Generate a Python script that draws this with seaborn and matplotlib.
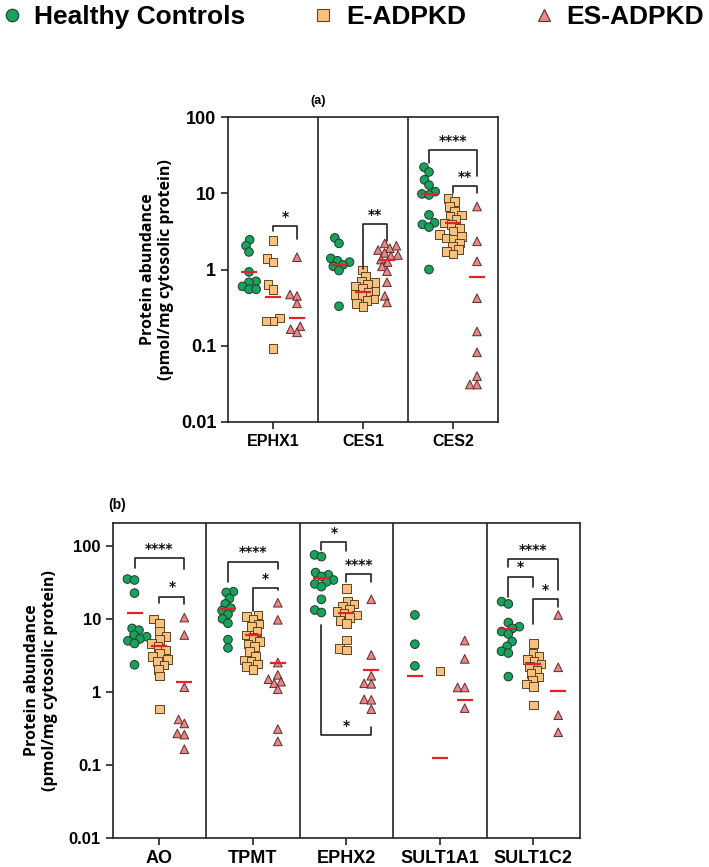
import pandas as pd
import seaborn as sns
import matplotlib.pyplot as plt
from matplotlib.lines import Line2D
from matplotlib.ticker import FixedLocator, FuncFormatter, NullLocator

GROUPS = ["Healthy Controls", "E-ADPKD", "ES-ADPKD"]
MARKERS = {"Healthy Controls": "o", "E-ADPKD": "s", "ES-ADPKD": "^"}
COLORS = {"Healthy Controls": "#17A35E", "E-ADPKD": "#F8C27E", "ES-ADPKD": "#E8868A"}
EDGES = {"Healthy Controls": "#1d3a2a", "E-ADPKD": "#5c4424", "ES-ADPKD": "#5c2c2c"}
MEAN_COLOR = "#E5222A"

ENZYMES_A = ["EPHX1", "CES1", "CES2"]
ENZYMES_B = ["AO", "TPMT", "EPHX2", "SULT1A1", "SULT1C2"]

# individual samples, pmol/mg cytosolic protein
HEALTHY = {
    "EPHX1": [2.45, 2.05, 1.7, 0.93, 0.7, 0.68, 0.6, 0.55, 0.55],
    "CES1": [2.6, 2.2, 1.4, 1.3, 1.25, 1.15, 1.1, 0.97, 0.33],
    "CES2": [22, 19, 15, 12.8, 10.5, 9.8, 9.5, 5.2, 4.1, 3.9, 3.6, 1.0],
    "AO": [35, 34, 22.5, 7.4, 7.0, 6.0, 5.7, 5.3, 5.0, 4.6, 2.35],
    "TPMT": [23.5, 23, 19, 16, 14, 13, 11.5, 10, 8.7, 5.2, 4.0],
    "EPHX2": [75, 71, 43, 40, 38, 34, 32, 30, 27.6, 18.5, 13.2, 12.2],
    "SULT1A1": [11.3, 4.5, 2.27],
    "SULT1C2": [17.2, 16, 8.9, 7.8, 7.4, 6.7, 6.2, 4.9, 4.2, 3.6, 3.4, 1.62],
}
E_ADPKD = {
    "EPHX1": [2.4, 1.4, 1.25, 0.64, 0.55, 0.23, 0.21, 0.21, 0.092],
    "CES1": [0.98, 0.82, 0.7, 0.67, 0.64, 0.6, 0.56, 0.52, 0.5, 0.47, 0.45, 0.41, 0.39, 0.36, 0.33],
    "CES2": [8.6, 7.8, 6.7, 5.8, 5.2, 4.97, 4.5, 4.06, 3.86, 3.5, 3.16, 2.86, 2.72, 2.6, 2.46,
             2.23, 2.0, 1.82, 1.73, 1.6],
    "AO": [9.9, 8.7, 6.8, 5.7, 5.25, 4.6, 4.17, 3.75, 3.38, 3.04, 2.8, 2.6, 2.34, 2.04, 1.65, 0.58],
    "TPMT": [11.3, 10.7, 9.7, 8.5, 7.8, 6.7, 6.0, 5.6, 4.9, 4.5, 4.17, 3.56, 3.1, 2.74, 2.6, 2.4,
             2.22, 2.04],
    "EPHX2": [26.2, 17.2, 16, 14.7, 13.5, 12.6, 11.9, 11.3, 10.5, 9.5, 8.7, 5.15, 3.96, 3.75],
    "SULT1A1": [1.96],
    "SULT1C2": [4.6, 3.4, 3.04, 2.8, 2.6, 2.4, 2.22, 2.0, 1.8, 1.59, 1.46, 1.29, 1.18, 0.66],
}
ES_ADPKD = {
    "EPHX1": [1.45, 0.47, 0.45, 0.36, 0.18, 0.165, 0.15],
    "CES1": [2.2, 2.05, 1.9, 1.8, 1.65, 1.55, 1.5, 1.35, 1.25, 1.1, 0.95, 0.68, 0.45, 0.37],
    "CES2": [6.7, 2.34, 1.28, 0.42, 0.154, 0.082, 0.04, 0.031, 0.031],
    "AO": [10.4, 6.0, 1.16, 0.42, 0.37, 0.27, 0.26, 0.164],
    "TPMT": [16.6, 9.7, 2.52, 1.71, 1.49, 1.38, 1.31, 1.09, 0.31, 0.21],
    "EPHX2": [18.5, 3.2, 1.66, 1.31, 1.29, 0.79, 0.78, 0.58],
    "SULT1A1": [5.04, 2.83, 1.15, 1.15, 0.6],
    "SULT1C2": [11.3, 2.17, 0.48, 0.28],
}

# red horizontal lines (healthy, E-ADPKD, ES-ADPKD)
MEAN_LINE = {
    "EPHX1": [0.92, 0.44, 0.234],
    "CES1": [1.13, 0.506, 1.35],
    "CES2": [9.7, 4.06, 0.80],
    "AO": [12.2, 4.3, 1.38],
    "TPMT": [13.7, 6.0, 2.52],
    "EPHX2": [35.9, 11.9, 2.0],
    "SULT1A1": [1.65, 0.124, 0.777],
    "SULT1C2": [7.3, 2.39, 1.04],
}

# significance brackets: enzyme, group from, group to, bar level, left tip, right tip, label
BRACKETS_A = [
    ("EPHX1", 1, 2, 3.75, 3.16, 2.51, "*"),
    ("CES1", 1, 2, 3.94, 1.02, 2.34, "**"),
    ("CES2", 0, 2, 36.6, 25.1, 16.8, "****"),
    ("CES2", 1, 2, 12.6, 10.2, 10.0, "**"),
]
BRACKETS_B = [
    ("AO", 0, 2, 67.4, 49.2, 47.6, "****"),
    ("AO", 1, 2, 20.2, 16.4, 16.0, "*"),
    ("TPMT", 0, 2, 60.8, 32.4, 47.6, "****"),
    ("TPMT", 1, 2, 26.7, 12.6, 24.9, "*"),
    ("EPHX2", 0, 1, 111, 87.6, 85, "*"),
    ("EPHX2", 1, 2, 41.1, 32.4, 32.4, "****"),
    ("EPHX2", 0, 2, 0.258, 8.25, 0.328, "*"),
    ("SULT1C2", 0, 2, 65.4, 50.9, 24.9, "****"),
    ("SULT1C2", 0, 1, 37.9, 19.7, 27.6, "*"),
    ("SULT1C2", 1, 2, 18.5, 8.5, 14.4, "*"),
]

DODGE = 0.8 / 3
OFFSETS = [-DODGE, 0, DODGE]
SWARM_LAYOUT_SIZE = 4.2   # collision size used for the swarm layout
POINT_SIZE = 6.2          # size the points are finally drawn at (they overlap, like Prism)

swarm_collections = []


def long_table(enzymes):
    rows = []
    for group, values in zip(GROUPS, [HEALTHY, E_ADPKD, ES_ADPKD]):
        for enzyme in enzymes:
            for v in values[enzyme]:
                rows.append({"enzyme": enzyme, "group": group, "value": v})
    return pd.DataFrame(rows)


def mean_table(enzymes):
    rows = []
    for enzyme in enzymes:
        for group, v in zip(GROUPS, MEAN_LINE[enzyme]):
            rows.append({"enzyme": enzyme, "group": group, "value": v})
    return pd.DataFrame(rows)


def draw_panel(ax, enzymes, brackets, ytop, xfont, yfont, ylabelpad):
    ax.set_yscale("log")
    df = long_table(enzymes)
    for group in GROUPS:
        n_before = len(ax.collections)
        sns.swarmplot(data=df[df["group"] == group], x="enzyme", y="value", hue="group",
                      hue_order=GROUPS, order=enzymes, dodge=True, palette=COLORS,
                      marker=MARKERS[group], size=SWARM_LAYOUT_SIZE,
                      linewidth=0.7, edgecolor=EDGES[group], legend=False, ax=ax, zorder=3)
        swarm_collections.extend(ax.collections[n_before:])
    sns.pointplot(data=mean_table(enzymes), x="enzyme", y="value", hue="group",
                  hue_order=GROUPS, order=enzymes, dodge=2 * DODGE, markers="_",
                  linestyle="none", errorbar=None, palette=[MEAN_COLOR] * 3,
                  markersize=12, markeredgewidth=1.6, legend=False, ax=ax, zorder=4)

    for i in range(len(enzymes) - 1):
        ax.axvline(i + 0.5, color="#222222", lw=1.2, zorder=1)

    for enzyme, g1, g2, bar, t1, t2, label in brackets:
        k = enzymes.index(enzyme)
        x1, x2 = k + OFFSETS[g1], k + OFFSETS[g2]
        ax.plot([x1, x1, x2, x2], [t1, bar, bar, t2], color="#222222", lw=1.2, zorder=5)
        ax.annotate(label, xy=((x1 + x2) / 2, bar), xytext=(0, 1.5), textcoords="offset points",
                    ha="center", va="bottom", fontsize=10, fontweight="bold",
                    family="DejaVu Sans", color="#111111")

    ax.set_xlim(-0.5, len(enzymes) - 0.5)
    ax.set_ylim(0.01, ytop)
    ax.yaxis.set_major_locator(FixedLocator([0.01, 0.1, 1, 10, 100]))
    ax.yaxis.set_major_formatter(FuncFormatter(lambda v, p: f"{v:g}"))
    ax.yaxis.set_minor_locator(NullLocator())
    ax.set_xlabel("")
    ax.set_ylabel("Protein abundance\n(pmol/mg cytosolic protein)", family="Open Sans",
                  fontweight="bold", fontsize=11.5, labelpad=ylabelpad, linespacing=1.15)
    ax.tick_params(axis="both", direction="out", length=5, width=1.2, color="#222222")
    for lab in ax.get_xticklabels():
        lab.set_fontweight("bold")
        lab.set_fontsize(xfont)
    for lab in ax.get_yticklabels():
        lab.set_fontweight("bold")
        lab.set_fontsize(yfont)
    for sp in ax.spines.values():
        sp.set_visible(True)
        sp.set_linewidth(1.2)
        sp.set_color("#222222")


sns.set_theme(style="ticks")
plt.rcParams["font.family"] = ["Liberation Sans", "DejaVu Sans"]
plt.rcParams["text.color"] = "black"
plt.rcParams["axes.labelcolor"] = "black"
plt.rcParams["xtick.color"] = "black"
plt.rcParams["ytick.color"] = "black"

W, H = 709, 867
fig = plt.figure(figsize=(W / 100, H / 100), dpi=100)

ax_a = fig.add_axes([228 / W, 1 - 422 / H, 270 / W, 305 / H])
draw_panel(ax_a, ENZYMES_A, BRACKETS_A, 100, 11.5, 13, 5)

ax_b = fig.add_axes([112.7 / W, 1 - 838 / H, 467.3 / W, 315 / H])
draw_panel(ax_b, ENZYMES_B, BRACKETS_B, 205, 13, 12, 8)

fig.text(318 / W, 1 - 101 / H, "(a)", fontsize=9, fontweight="bold", ha="center", va="center")
fig.text(117 / W, 1 - 505 / H, "(b)", fontsize=10, fontweight="bold", ha="center", va="center")

handles = [Line2D([], [], marker=MARKERS[g], linestyle="none", markersize=9,
                  markerfacecolor=COLORS[g], markeredgecolor=EDGES[g], markeredgewidth=0.8)
           for g in GROUPS]
fig.legend(handles, GROUPS, loc="upper left", bbox_to_anchor=(0, 1.0), ncol=3, frameon=False,
           prop={"family": "Liberation Sans", "weight": "bold", "size": 19},
           handlelength=0.5, handletextpad=0.6, columnspacing=2.7, borderaxespad=0.1,
           borderpad=0.1)

# lay the swarms out with a tight collision size, then freeze them and enlarge the points
fig.canvas.draw()
for coll in swarm_collections:
    if "draw" in coll.__dict__:
        del coll.draw
    coll.set_sizes([POINT_SIZE ** 2])

fig.savefig("out.png", dpi=100)
